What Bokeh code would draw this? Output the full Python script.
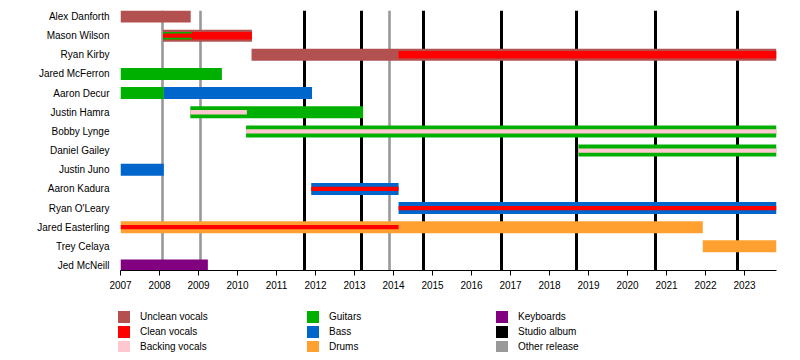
from bokeh.plotting import figure
from bokeh.models import Range1d, FixedTicker, Legend, LegendItem, ColumnDataSource
from bokeh.layouts import column
from bokeh.embed import file_html
from bokeh.resources import INLINE

# ---------------- data ----------------
members = ["Alex Danforth", "Mason Wilson", "Ryan Kirby", "Jared McFerron", "Aaron Decur",
           "Justin Hamra", "Bobby Lynge", "Daniel Gailey", "Justin Juno", "Aaron Kadura",
           "Ryan O'Leary", "Jared Easterling", "Trey Celaya", "Jed McNeill"]

roles = ["Unclean vocals", "Clean vocals", "Backing vocals", "Guitars", "Bass", "Drums",
         "Keyboards", "Studio album", "Other release"]
role_colors = ["#B35050", "#FF0000", "#FFC8D0", "#00B000", "#0066CC", "#FFA030",
               "#800080", "#000000", "#999999"]

years = list(range(2007, 2024))
start_year = 2007.0
end_year = 2023.82

studio_albums = [2011.71, 2013.17, 2014.77, 2016.77, 2018.68, 2020.72, 2022.82]
other_releases = [2008.08, 2009.04, 2013.89]

# main (full-width) bars
main_member = ["Alex Danforth", "Mason Wilson", "Ryan Kirby", "Jared McFerron", "Aaron Decur",
               "Aaron Decur", "Justin Hamra", "Bobby Lynge", "Daniel Gailey", "Justin Juno",
               "Aaron Kadura", "Ryan O'Leary", "Jared Easterling", "Trey Celaya", "Jed McNeill"]
main_role = ["Unclean vocals", "Unclean vocals", "Unclean vocals", "Guitars", "Guitars",
             "Bass", "Guitars", "Guitars", "Guitars", "Bass",
             "Bass", "Bass", "Drums", "Drums", "Keyboards"]
main_start = [2007.0, 2008.09, 2010.36, 2007.0, 2007.0,
              2008.11, 2008.79, 2010.22, 2018.74, 2007.0,
              2011.89, 2014.13, 2007.0, 2021.93, 2007.0]
main_end = [2008.80, 2010.37, 2023.82, 2009.60, 2008.11,
            2011.91, 2013.22, 2023.82, 2023.82, 2008.11,
            2014.13, 2023.82, 2021.93, 2023.82, 2009.24]

# secondary (medium) bars
mid_member = ["Mason Wilson", "Ryan Kirby", "Mason Wilson"]
mid_role = ["Clean vocals", "Clean vocals", "Guitars"]
mid_start = [2008.09, 2014.13, 2008.09]
mid_end = [2010.37, 2023.82, 2008.83]

# inner (thin) stripes
thin_member = ["Mason Wilson", "Justin Hamra", "Bobby Lynge", "Daniel Gailey",
               "Aaron Kadura", "Ryan O'Leary", "Jared Easterling"]
thin_role = ["Clean vocals", "Backing vocals", "Backing vocals", "Backing vocals",
             "Clean vocals", "Clean vocals", "Clean vocals"]
thin_start = [2008.09, 2008.79, 2010.22, 2018.74, 2011.89, 2014.13, 2007.0]
thin_end = [2008.83, 2010.24, 2023.82, 2023.82, 2014.13, 2023.82, 2014.13]

# ---------------- main figure ----------------
color_of = dict(zip(roles, role_colors))
FONT = "Liberation Sans"
W = 784
MAIN_H = 295
LEG_H = 57

p = figure(width=W, height=MAIN_H,
           x_range=Range1d(start_year, end_year),
           y_range=Range1d(13.26, -0.313),
           output_backend="svg", toolbar_location=None,
           min_border_left=120, min_border_right=8,
           min_border_top=10, min_border_bottom=25)
p.outline_line_color = None
p.xgrid.visible = False
p.ygrid.visible = False

# release lines (behind bars)
p.vspan(x=other_releases, line_color=color_of["Other release"], line_width=2.6)
p.vspan(x=studio_albums, line_color=color_of["Studio album"], line_width=3)

px_per_row = 260 / 13.573


def bars(mem, rol, st, en, px):
    src = ColumnDataSource(dict(
        y=[members.index(m) for m in mem],
        left=st, right=en,
        color=[color_of[r] for r in rol]))
    p.hbar(y="y", left="left", right="right", height=px / px_per_row,
           fill_color="color", line_color=None, source=src)


bars(main_member, main_role, main_start, main_end, 12)
bars(mid_member, mid_role, mid_start, mid_end, 7.5)
bars(thin_member, thin_role, thin_start, thin_end, 4.3)

xa = p.xaxis[0]
xa.ticker = FixedTicker(ticks=years)
xa.major_label_overrides = {y: str(y) for y in years}
xa.minor_tick_line_color = None
xa.major_tick_in = 0
xa.major_tick_out = 5
xa.axis_line_color = "black"
xa.major_tick_line_color = "black"
xa.major_label_standoff = 5
xa.major_label_text_font = FONT
xa.major_label_text_font_size = "10px"
xa.major_label_text_color = "black"

ya = p.yaxis[0]
ya.ticker = FixedTicker(ticks=list(range(len(members))))
ya.major_label_overrides = {i: m for i, m in enumerate(members)}
ya.axis_line_color = None
ya.major_tick_line_color = None
ya.minor_tick_line_color = None
ya.major_tick_out = 0
ya.major_tick_in = 0
ya.major_label_standoff = 11
ya.major_label_text_font = FONT
ya.major_label_text_font_size = "10px"
ya.major_label_text_color = "black"

# ---------------- legend figure ----------------
q = figure(width=W, height=LEG_H,
           x_range=Range1d(0, W), y_range=Range1d(LEG_H, 0),
           output_backend="svg", toolbar_location=None,
           min_border=0)
if "frame_align" in q.properties():
    q.frame_align = False
    p.frame_align = False
q.outline_line_color = None
q.axis.visible = False
q.xgrid.visible = False
q.ygrid.visible = False

items = []
for r in roles:
    rend = q.quad(left=[0], right=[0], top=[0], bottom=[0],
                  fill_color=color_of[r], line_color=None)
    items.append(LegendItem(label=r, renderers=[rend]))

legend = Legend(items=items, location=(116, -1.5), orientation="vertical", nrows=3,
                glyph_width=15, glyph_height=15, label_height=15, label_width=165,
                label_standoff=9, spacing=0, padding=0, margin=0,
                border_line_color=None, background_fill_alpha=0,
                label_text_font=FONT, label_text_font_size="10px",
                label_text_color="black")
q.add_layout(legend)

layout = column(p, q, spacing=0)
open("out.html", "w").write(file_html(layout, INLINE))
